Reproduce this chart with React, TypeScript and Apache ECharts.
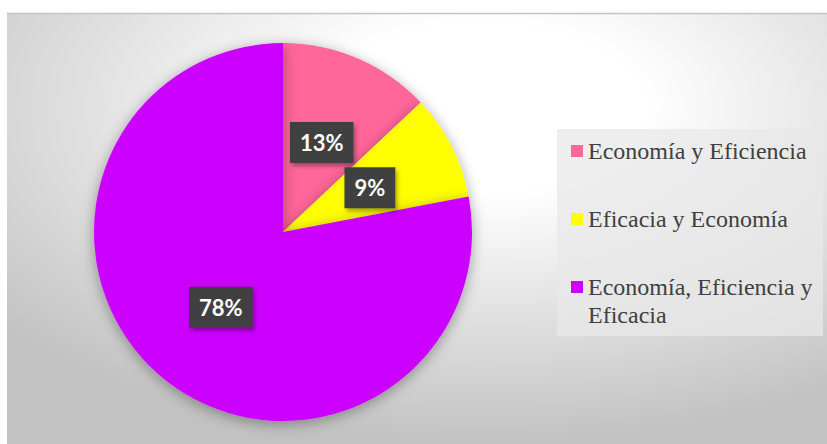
import React, { useEffect, useRef } from 'react';
import * as echarts from 'echarts';

const categories = ['Economía y Eficiencia', 'Eficacia y Economía', 'Economía, Eficiencia y Eficacia'];
const values = [13, 9, 78];
const colors = ['#FF6699', '#FFFF00', '#CC00FF'];
const legendLabels = ['Economía y Eficiencia', 'Eficacia y Economía', '\nEconomía, Eficiencia y\nEficacia'];

export default function App() {
  const ref = useRef<HTMLDivElement>(null);
  useEffect(() => {
    const chart = echarts.init(ref.current as HTMLDivElement, null, { renderer: 'svg' });
    const legendPad = [
      [28, 0, 28, 0],
      [0, 0, 0, 0],
      [0, 0, 0, 0],
    ];
    chart.setOption({
      animation: false,
      backgroundColor: '#ffffff',
      graphic: [
        {
          type: 'rect',
          z: -10,
          silent: true,
          shape: { x: 7, y: 13, width: 820, height: 431 },
          style: {
            fill: {
              type: 'radial',
              x: 0.58,
              y: 0.22,
              r: 0.78,
              colorStops: [
                { offset: 0, color: '#ffffff' },
                { offset: 0.25, color: '#ffffff' },
                { offset: 1, color: '#c2c2c2' },
              ],
            },
          },
        },
        {
          type: 'line',
          z: -9,
          silent: true,
          shape: { x1: 7, y1: 13.5, x2: 827, y2: 13.5 },
          style: { stroke: '#c4c4c4', lineWidth: 1.5 },
        },
        {
          type: 'rect',
          z: -8,
          silent: true,
          shape: { x: 557, y: 129, width: 266, height: 207 },
          style: { fill: 'rgba(232,232,232,0.75)' },
        },
      ],
      legend: {
        orient: 'vertical',
        left: 571,
        top: 109,
        padding: 0,
        itemWidth: 12,
        itemHeight: 12,
        itemGap: 12,
        icon: 'rect',
        selectedMode: false,
        textStyle: {
          fontFamily: 'Liberation Serif',
          fontSize: 24,
          lineHeight: 28,
          color: '#404040',
        },
        data: categories.map((name, i) => ({ name, textStyle: { padding: legendPad[i] } })),
        formatter: (name: string) => legendLabels[categories.indexOf(name)],
      },
      series: [
        {
          type: 'pie',
          center: [283, 232],
          radius: 189,
          startAngle: 90,
          clockwise: true,
          silent: true,
          itemStyle: {
            shadowBlur: 14,
            shadowColor: 'rgba(0,0,0,0.35)',
            shadowOffsetY: 3,
          },
          label: {
            show: true,
            position: 'inside',
            formatter: '{d}%',
            color: '#ffffff',
            fontFamily: 'Lato',
            fontWeight: 'bold',
            fontSize: 22,
            lineHeight: 27,
            backgroundColor: '#404040',
            padding: [7, 10, 7, 10],
            shadowBlur: 4,
            shadowOffsetX: 2,
            shadowOffsetY: 3,
            shadowColor: 'rgba(0,0,0,0.35)',
          },
          labelLine: { show: false },
          data: categories.map((name, i) => ({
            name,
            value: values[i],
            itemStyle: { color: colors[i] },
          })),
        },
      ],
    });
    return () => chart.dispose();
  }, []);
  return <div ref={ref} style={{ position: 'fixed', left: 0, top: 0, width: 827, height: 444 }} />;
}
